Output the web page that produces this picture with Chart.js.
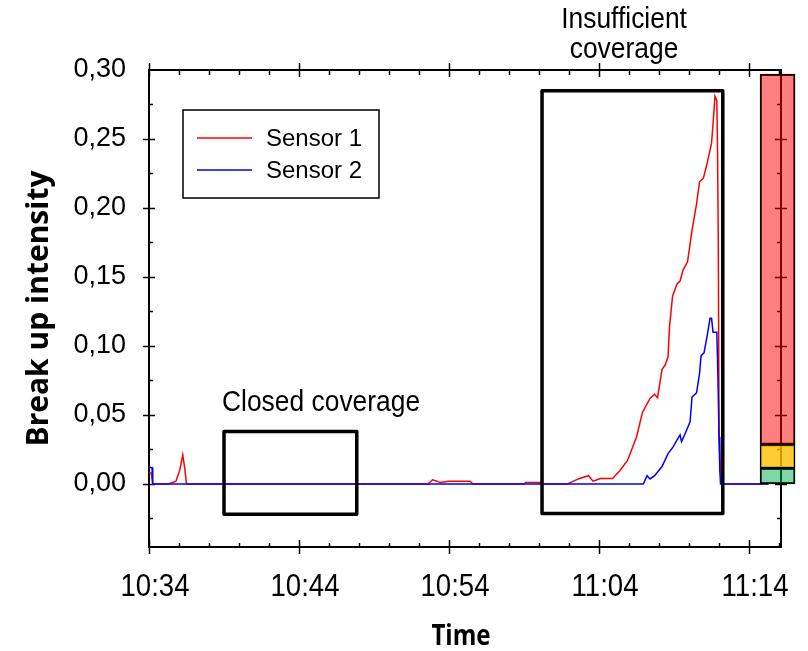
<!DOCTYPE html>
<html>
<head>
<meta charset="utf-8">
<script src="https://cdn.jsdelivr.net/npm/chart.js@4.4.1/dist/chart.umd.min.js"></script>
<style>
  body { margin: 0; background: #fff; }
  #wrap { width: 808px; height: 651px; }
</style>
</head>
<body>
<div id="wrap"><canvas id="breakChart" width="808" height="651"></canvas></div>
<script>
// time is minutes after 10:34
const xTickValues = [0, 10, 20, 30, 40];
const xTickLabels = ["10:34", "10:44", "10:54", "11:04", "11:14"];
const yTickValues = [0, 0.05, 0.1, 0.15, 0.2, 0.25, 0.3];

const sensor1Time = [0, 0.15, 0.25, 1.3, 1.8, 2.05, 2.25, 2.4, 2.5, 18.6, 18.9, 19.2, 19.4, 20.0, 21.4, 21.6,
  25.0, 25.1, 26.1, 26.2, 27.9, 28.3, 28.7, 29.3, 29.6, 30.1, 30.9, 31.4, 31.9, 32.5, 32.9, 33.4, 33.7, 33.9,
  34.2, 34.4, 34.6, 34.7, 34.9, 35.2, 35.4, 35.6, 35.9, 36.2, 36.5, 36.7, 36.95, 37.2, 37.5, 37.6, 37.73,
  37.85, 37.9, 37.95, 38.0, 38.1, 38.2, 41.3];
const sensor1Values = [0.008, 0.008, 0, 0, 0.002, 0.01, 0.021, 0.01, 0, 0, 0.003, 0.002, 0.001, 0.002, 0.002, 0,
  0, 0.001, 0.001, 0, 0, 0.002, 0.004, 0.006, 0.002, 0.004, 0.004, 0.0097, 0.017, 0.034, 0.052, 0.062, 0.065, 0.0625,
  0.083, 0.086, 0.092, 0.114, 0.136, 0.145, 0.147, 0.155, 0.161, 0.184, 0.203, 0.219, 0.2215, 0.232, 0.247, 0.261, 0.281,
  0.278, 0.242, 0.174, 0.034, 0.008, 0, 0];

const sensor2Time = [0, 0.2, 0.25, 32.95, 33.2, 33.4, 33.7, 34.2, 34.6, 34.95, 35.2, 35.4, 35.5, 35.7, 36.07,
  36.2, 36.5, 36.7, 36.8, 37.0, 37.2, 37.4, 37.5, 37.6, 37.85, 37.9, 37.95, 38.0, 38.05, 38.1, 41.3];
const sensor2Values = [0.012, 0.012, 0, 0, 0.006, 0.0036, 0.006, 0.0126, 0.022, 0.027, 0.032, 0.0355, 0.0307, 0.0355, 0.045,
  0.063, 0.066, 0.080, 0.093, 0.095, 0.107, 0.12, 0.12, 0.110, 0.110, 0.09, 0.063, 0.034, 0.010, 0, 0];

// marked periods (time range, intensity range)
const closedBoxX = [5.0, 13.85];
const closedBoxY = [-0.022, 0.038];
const insuffBoxX = [26.2, 38.25];
const insuffBoxY = [-0.0215, 0.285];

// coverage bar on the right
const coverageBarX = 41.9;
const coverageLevels = [0, 0.0115, 0.0285, 0.297];

const arialFont = "Arial, 'Liberation Sans', sans-serif";
const titleFont = "'Open Sans', sans-serif";

function pts(xs, ys) {
  return xs.map((x, i) => ({ x: x, y: ys[i] }));
}
function boxPts(bx, by) {
  return [
    { x: bx[0], y: by[0] }, { x: bx[1], y: by[0] }, { x: bx[1], y: by[1] },
    { x: bx[0], y: by[1] }, { x: bx[0], y: by[0] }
  ];
}

// squeezed text, the original uses a narrow face
function narrowText(ctx, text, x, y, font, sx, align) {
  ctx.save();
  ctx.translate(x, y);
  ctx.scale(sx, 1);
  ctx.font = font;
  ctx.textAlign = align;
  ctx.textBaseline = "alphabetic";
  ctx.fillStyle = "#000";
  ctx.fillText(text, 0, 0);
  ctx.restore();
}

const boxStyle = {
  type: "line", borderColor: "#000", borderWidth: 3.5, pointRadius: 0,
  borderJoinStyle: "round", tension: 0, order: 0, noLegend: true, clip: false
};

// frame with ticks on all four sides
const framePlugin = {
  id: "frame",
  beforeDatasetsDraw(chart) {
    const ctx = chart.ctx;
    const ca = chart.chartArea;
    const xs = chart.scales.x, ys = chart.scales.y;
    ctx.save();
    ctx.strokeStyle = "#000";
    ctx.lineWidth = 2;
    ctx.strokeRect(ca.left, ca.top, ca.right - ca.left, ca.bottom - ca.top);
    ctx.lineWidth = 1.5;
    ctx.beginPath();
    for (let t = 0; t <= xs.max; t += 2) {
      const px = Math.round(xs.getPixelForValue(t)) + 0.5;
      if (t % 10 === 0) {
        ctx.moveTo(px, ca.bottom - 7); ctx.lineTo(px, ca.bottom + 7);
        ctx.moveTo(px, ca.top - 7); ctx.lineTo(px, ca.top + 7);
      } else {
        ctx.moveTo(px, ca.bottom - 4); ctx.lineTo(px, ca.bottom);
        ctx.moveTo(px, ca.top); ctx.lineTo(px, ca.top + 5);
      }
    }
    for (let k = -1; k <= 11; k++) {
      const v = k * 0.025;
      const py = Math.round(ys.getPixelForValue(v)) + 0.5;
      if (k % 2 === 0) {
        ctx.moveTo(ca.left - 6, py); ctx.lineTo(ca.left + 6, py);
        ctx.moveTo(ca.right - 6, py); ctx.lineTo(ca.right + 6, py);
      } else {
        ctx.moveTo(ca.left, py); ctx.lineTo(ca.left + 4, py);
        ctx.moveTo(ca.right - 4, py); ctx.lineTo(ca.right, py);
      }
    }
    ctx.stroke();
    ctx.restore();

    // time labels and axis title
    xTickValues.forEach((v, i) => {
      narrowText(ctx, xTickLabels[i], xs.getPixelForValue(v) + 6, 596, "31px " + arialFont, 0.89, "center");
    });
    narrowText(ctx, "Time", (ca.left + ca.right) / 2 - 4, 645, "bold 28px " + titleFont, 0.86, "center");
  }
};

// legend box and text notes
const notesPlugin = {
  id: "notes",
  afterDatasetsDraw(chart) {
    const ctx = chart.ctx;
    const ca = chart.chartArea;
    const xs = chart.scales.x, ys = chart.scales.y;
    ctx.save();
    const lx = ca.left + 34, ly = ca.top + 40;
    ctx.fillStyle = "#fff";
    ctx.fillRect(lx, ly, 196, 88);
    ctx.strokeStyle = "#000";
    ctx.lineWidth = 1.5;
    ctx.strokeRect(lx, ly, 196, 88);
    const items = chart.data.datasets.filter(d => !d.noLegend);
    items.forEach((d, i) => {
      const y = ly + 28 + i * 32;
      ctx.strokeStyle = d.borderColor;
      ctx.lineWidth = 1.5;
      ctx.beginPath();
      ctx.moveTo(lx + 14, y); ctx.lineTo(lx + 69, y);
      ctx.stroke();
      ctx.fillStyle = "#000";
      ctx.font = "24px " + arialFont;
      ctx.textBaseline = "middle";
      ctx.textAlign = "left";
      ctx.fillText(d.label, lx + 83, y + 1);
    });
    ctx.restore();

    const noteFont = "30px " + arialFont;
    narrowText(ctx, "Closed coverage", xs.getPixelForValue(closedBoxX[0]) - 2,
      ys.getPixelForValue(closedBoxY[1]) - 21, noteFont, 0.88, "left");
    const cx = xs.getPixelForValue(insuffBoxX[0]) + 82;
    narrowText(ctx, "Insufficient", cx, 28, noteFont, 0.88, "center");
    narrowText(ctx, "coverage", cx, 58, noteFont, 0.88, "center");
  }
};

const ctx = document.getElementById("breakChart").getContext("2d");
new Chart(ctx, {
  type: "line",
  data: {
    datasets: [
      {
        label: "Sensor 1",
        data: pts(sensor1Time, sensor1Values),
        borderColor: "#ff0000",
        borderWidth: 1.5,
        pointRadius: 0,
        tension: 0,
        order: 2
      },
      {
        label: "Sensor 2",
        data: pts(sensor2Time, sensor2Values),
        borderColor: "#0000ff",
        borderWidth: 1.5,
        pointRadius: 0,
        tension: 0,
        order: 1
      },
      Object.assign({ label: "closed", data: boxPts(closedBoxX, closedBoxY) }, boxStyle),
      Object.assign({ label: "insufficient", data: boxPts(insuffBoxX, insuffBoxY) }, boxStyle),
      {
        type: "bar", label: "good", noLegend: true, order: 0, grouped: false, clip: false,
        data: [{ x: coverageBarX, y: [coverageLevels[0], coverageLevels[1]] }],
        backgroundColor: "rgba(0,176,80,0.5)", borderColor: "#000", borderWidth: 1.5,
        borderSkipped: false, barThickness: 35
      },
      {
        type: "bar", label: "medium", noLegend: true, order: 0, grouped: false, clip: false,
        data: [{ x: coverageBarX, y: [coverageLevels[1], coverageLevels[2]] }],
        backgroundColor: "rgba(255,191,0,0.8)", borderColor: "#000", borderWidth: 1.5,
        borderSkipped: false, barThickness: 35
      },
      {
        type: "bar", label: "poor", noLegend: true, order: 0, grouped: false, clip: false,
        data: [{ x: coverageBarX, y: [coverageLevels[2], coverageLevels[3]] }],
        backgroundColor: "rgba(255,0,0,0.5)", borderColor: "#000", borderWidth: 1.5,
        borderSkipped: false, barThickness: 35
      }
    ]
  },
  options: {
    responsive: false,
    animation: false,
    layout: { padding: { top: 70, right: 27, left: 0, bottom: 0 } },
    plugins: { legend: { display: false }, tooltip: { enabled: false } },
    scales: {
      x: {
        type: "linear",
        min: 0,
        max: 42.13,
        offset: false,
        grid: { display: false, drawTicks: false },
        border: { display: false },
        afterBuildTicks: (s) => { s.ticks = xTickValues.map(v => ({ value: v })); },
        afterFit: (s) => { s.height = 104; },
        ticks: { display: false }
      },
      y: {
        min: -0.0457,
        max: 0.3,
        grid: { display: false, drawTicks: false },
        border: { display: false },
        afterBuildTicks: (s) => { s.ticks = yTickValues.map(v => ({ value: v })); },
        afterFit: (s) => { s.width = 149; },
        ticks: {
          color: "#000",
          padding: 23,
          font: { family: arialFont, size: 27 },
          callback: (v) => v.toFixed(2).replace(".", ",")
        },
        title: {
          display: true,
          text: "Break up intensity",
          color: "#000",
          padding: { top: 21, bottom: 0 },
          font: { family: titleFont, size: 30, weight: "bold" }
        }
      }
    }
  },
  plugins: [framePlugin, notesPlugin]
});
</script>
</body>
</html>
